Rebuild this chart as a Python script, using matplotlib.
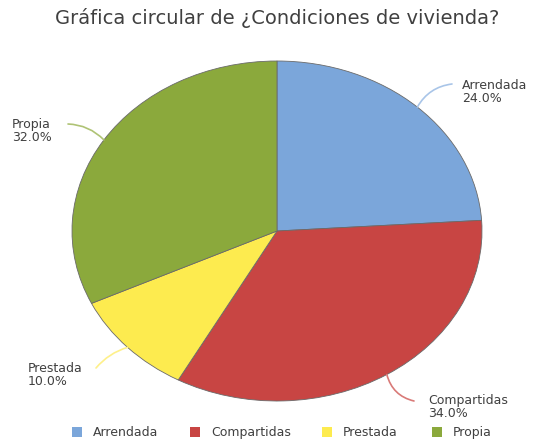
import numpy as np
import matplotlib.pyplot as plt
from matplotlib.patches import Rectangle

# datos
categorias = ['Arrendada', 'Compartidas', 'Prestada', 'Propia']
porcentajes = [24.0, 34.0, 10.0, 32.0]
colores = ['#7BA6DA', '#C84543', '#FDEB4F', '#8BA93C']
colores_linea = ['#A9C5E8', '#D97A78', '#FEF08A', '#AFC375']
titulo = 'Gráfica circular de ¿Condiciones de vivienda?'

W, H = 533, 443
fig = plt.figure(figsize=(W / 100, H / 100), dpi=100)

# ejes del pastel (elipse: caja no cuadrada)
px0, px1, py0, py1 = 72, 482, 61, 401
ax = fig.add_axes([px0 / W, (H - py1) / H, (px1 - px0) / W, (py1 - py0) / H])
wedges, _ = ax.pie(porcentajes, colors=colores, startangle=90, counterclock=False,
                   radius=1, wedgeprops=dict(edgecolor='#6a6a6a', linewidth=0.6))
ax.set_aspect('auto')
ax.set_xlim(-1, 1)
ax.set_ylim(-1, 1)
ax.axis('off')

# capa en pixeles para etiquetas y leyenda
ov = fig.add_axes([0, 0, 1, 1])
ov.set_xlim(0, W)
ov.set_ylim(H, 0)
ov.axis('off')

cx, cy = (px0 + px1) / 2, (py0 + py1) / 2
rx, ry = (px1 - px0) / 2, (py1 - py0) / 2

# posicion del texto y fin de la linea guia
texto_pos = [(462, 92), (428, 407), (28, 375), (12, 131)]
fin_linea = [(452, 84), (414, 401), (96, 368), (68, 124)]
curvas = [-0.25, 0.3, 0.15, 0.2]

for w, cat, p, tp, fl, rad, cl in zip(wedges, categorias, porcentajes, texto_pos,
                                       fin_linea, curvas, colores_linea):
    ang = np.deg2rad((w.theta1 + w.theta2) / 2)
    x0 = cx + rx * np.cos(ang)
    y0 = cy - ry * np.sin(ang)
    ov.annotate('', xy=fl, xytext=(x0, y0),
                arrowprops=dict(arrowstyle='-', color=cl, lw=1.2,
                                connectionstyle='arc3,rad=%s' % rad,
                                shrinkA=0, shrinkB=0))
    ov.text(tp[0], tp[1], '%s\n%.1f%%' % (cat, p), ha='left', va='center',
            fontsize=9, color='#404040', linespacing=1.0)

fig.text(0.52, 1 - 18 / H, titulo, ha='center', va='center', fontsize=14,
         color='#404040')

# leyenda
ley_x = [72, 190, 322, 432]
for x, c, cat in zip(ley_x, colores, categorias):
    ov.add_patch(Rectangle((x, 427), 10, 10, facecolor=c, edgecolor='none'))
    ov.text(x + 21, 436, cat, ha='left', va='baseline', fontsize=9,
            color='#404040')

fig.savefig('out.png', dpi=100)
